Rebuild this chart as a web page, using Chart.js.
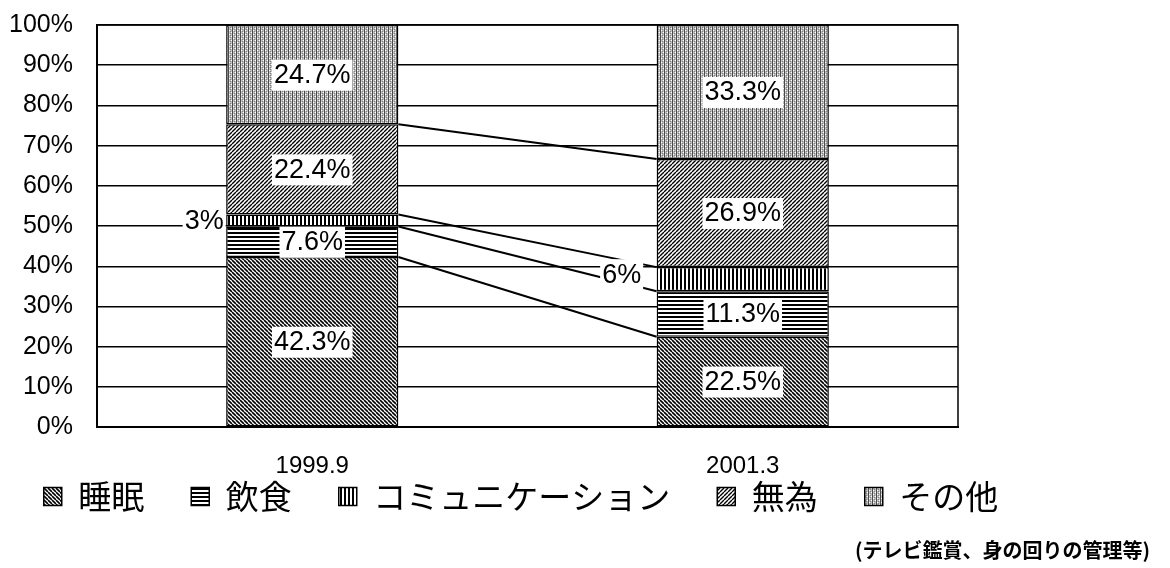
<!DOCTYPE html>
<html>
<head>
<meta charset="utf-8">
<script src="https://cdn.jsdelivr.net/npm/chart.js@4.4.1/dist/chart.umd.min.js"></script>
<style>
  html, body { margin: 0; padding: 0; background: #fff; }
  #wrap { position: relative; width: 1170px; height: 568px; }
  #note {
    position: absolute; right: 20px; top: 535px;
    font: bold 20px "Noto Sans CJK JP", sans-serif; color: #000;
  }
</style>
</head>
<body>
<div id="wrap">
  <canvas id="chart" width="1170" height="568"></canvas>
  <div id="note">(テレビ鑑賞、身の回りの管理等)</div>
</div>
<script>
const categories = ['1999.9', '2001.3'];
const seriesNames = ['睡眠', '飲食', 'コミュニケーション', '無為', 'その他'];
const sleep = [42.3, 22.5];
const eating = [7.6, 11.3];
const communication = [3, 6];
const idle = [22.4, 26.9];
const other = [24.7, 33.3];
const yTickStep = 10;

const NARROW = '"Liberation Sans Narrow", "Arial Narrow", "Liberation Sans", sans-serif';

// hatch fills, like the old monochrome office charts
function makePattern(kind) {
  const s = 4;
  const c = document.createElement('canvas');
  c.width = s; c.height = s;
  const g = c.getContext('2d');
  g.fillStyle = '#fff';
  g.fillRect(0, 0, s, s);
  g.strokeStyle = '#000';
  g.fillStyle = '#000';
  g.lineWidth = 1.6;
  if (kind === 'back') {
    g.beginPath();
    [-s, 0, s].forEach(k => { g.moveTo(k, 0); g.lineTo(k + s, s); });
    g.stroke();
  } else if (kind === 'fwd') {
    g.lineWidth = 1.4;
    g.beginPath();
    [-s, 0, s].forEach(k => { g.moveTo(k, s); g.lineTo(k + s, 0); });
    g.stroke();
  } else if (kind === 'horiz') {
    g.fillRect(0, 0, s, 2);
  } else if (kind === 'vert') {
    g.fillRect(0, 0, 2, s);
  } else {
    g.fillStyle = '#c0c0c0';
    g.fillRect(0, 0, s, s);
    g.fillStyle = '#4a4a4a';
    g.fillRect(0, 0, 1, s);
    g.fillStyle = '#808080';
    g.fillRect(2, 1, 1, 1);
    g.fillRect(2, 3, 1, 1);
    g.fillStyle = '#fff';
    g.fillRect(3, 0, 1, 1);
    g.fillRect(1, 2, 1, 1);
  }
  return g.createPattern(c, 'repeat');
}

const fills = [makePattern('back'), makePattern('horiz'), makePattern('vert'), makePattern('fwd'), makePattern('other')];
const values = [sleep, eating, communication, idle, other];

const datasets = seriesNames.map((name, i) => ({
  label: name,
  data: values[i],
  backgroundColor: fills[i],
  borderColor: '#000',
  borderWidth: 1.5,
  borderSkipped: false,
  categoryPercentage: 1,
  barPercentage: 0.4
}));

const labelFont = '27px ' + NARROW;

function boxedText(ctx, text, x, y) {
  ctx.font = labelFont;
  const w = ctx.measureText(text).width;
  ctx.fillStyle = '#fff';
  ctx.fillRect(x - w / 2 - 2, y - 15, w + 4, 31);
  ctx.fillStyle = '#000';
  ctx.textAlign = 'center';
  ctx.textBaseline = 'middle';
  ctx.fillText(text, x, y + 1);
}

const barExtras = {
  id: 'barExtras',
  afterLayout(chart) {
    // nudge the legend to where the original sits
    const lg = chart.legend;
    lg.left -= 63; lg.right -= 63;
    lg.top -= 73; lg.bottom -= 73;
  },
  afterDatasetsDraw(chart) {
    const ctx = chart.ctx;
    const area = chart.chartArea;
    ctx.save();
    ctx.strokeStyle = '#000';
    ctx.lineWidth = 1.5;
    ctx.strokeRect(area.left, area.top, area.right - area.left, area.bottom - area.top);

    // connector lines between the stacks
    ctx.lineWidth = 2;
    for (let i = 0; i < 4; i++) {
      const meta = chart.getDatasetMeta(i);
      const a = meta.data[0].getProps(['x', 'y', 'width'], true);
      const b = meta.data[1].getProps(['x', 'y', 'width'], true);
      ctx.beginPath();
      ctx.moveTo(a.x + a.width / 2, a.y);
      ctx.lineTo(b.x - b.width / 2, b.y);
      ctx.stroke();
    }

    // value labels
    const sideOffset = [22, 35];
    chart.data.datasets.forEach((ds, i) => {
      chart.getDatasetMeta(i).data.forEach((el, j) => {
        const p = el.getProps(['x', 'y', 'base', 'width'], true);
        const text = ds.data[j] + '%';
        const cy = (p.y + p.base) / 2;
        if (i === 2) {
          boxedText(ctx, text, p.x - p.width / 2 - sideOffset[j], cy - (j === 1 ? 5 : 0));
        } else {
          boxedText(ctx, text, p.x, cy);
        }
      });
    });
    ctx.restore();
  }
};

new Chart(document.getElementById('chart').getContext('2d'), {
  type: 'bar',
  data: { labels: categories, datasets },
  options: {
    responsive: false,
    animation: false,
    layout: { padding: { left: 8, top: 25, right: 10, bottom: -28 } },
    plugins: {
      tooltip: { enabled: false },
      legend: {
        position: 'bottom',
        labels: {
          color: '#000',
          font: { family: '"Noto Sans CJK JP", sans-serif', size: 33 },
          boxWidth: 18,
          boxHeight: 18,
          padding: 47
        }
      }
    },
    scales: {
      x: {
        stacked: true,
        grid: { display: false, drawTicks: false },
        border: { display: true, color: '#000', width: 2 },
        ticks: {
          color: '#000',
          padding: 25,
          font: { family: '"Liberation Sans", Arial, sans-serif', size: 24 }
        }
      },
      y: {
        stacked: true,
        min: 0,
        max: 100,
        afterFit(scale) { scale.width = 89; },
        grid: { color: '#000', lineWidth: 1.5, drawTicks: true, tickLength: 22, tickColor: 'rgba(0,0,0,0)' },
        border: { display: true, color: '#000', width: 2 },
        ticks: {
          stepSize: yTickStep,
          autoSkip: false,
          color: '#000',
          padding: 2,
          font: { family: NARROW, size: 25 },
          callback: v => v + '%'
        }
      },
      // empty right-hand strip, keeps the plot narrow while the legend stays wide
      yRight: {
        position: 'right',
        min: 0,
        max: 100,
        afterFit(scale) { scale.width = 202; },
        grid: { display: false, drawTicks: false },
        border: { display: false },
        ticks: { display: false }
      }
    }
  },
  plugins: [barExtras]
});
</script>
</body>
</html>
